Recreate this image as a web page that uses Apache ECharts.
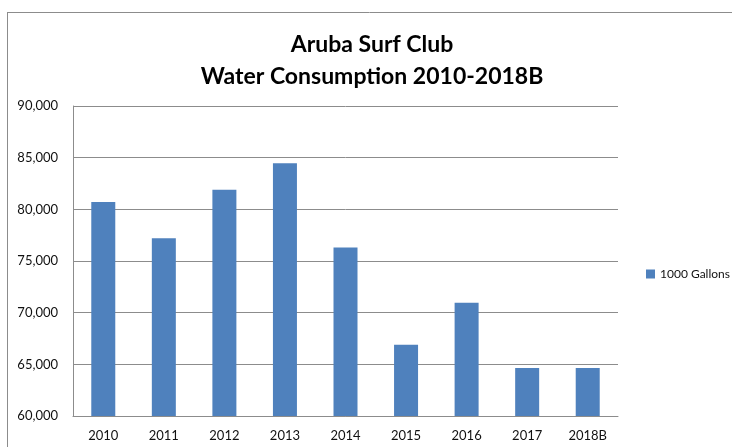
<!DOCTYPE html>
<html>
<head>
<meta charset="utf-8">
<script src="https://cdn.jsdelivr.net/npm/echarts@6/dist/echarts.min.js"></script>
<style>
    html, body { margin: 0; padding: 0; background: #fff; }
    #chart { width: 732px; height: 447px; }
</style>
</head>
<body>
<div id="chart"></div>
<script>
'use strict';
// 数据
var years = ['2010', '2011', '2012', '2013', '2014', '2015', '2016', '2017', '2018B'];
var gallons = [80700, 77200, 81900, 84450, 76300, 66900, 70950, 64650, 64650];
var seriesName = '1000 Gallons';
var titleLines = ['Aruba Surf Club', 'Water Consumption 2010-2018B'];

var chart = echarts.init(document.getElementById('chart'));
var font = 'Lato, "Open Sans", sans-serif';

var option = {
    animation: false,
    backgroundColor: '#fff',
    title: {
        text: titleLines.join('\n'),
        left: 367,
        textAlign: 'center',
        top: 24,
        textStyle: {
            fontFamily: font,
            fontWeight: 'bold',
            fontSize: 23,
            lineHeight: 32,
            color: '#000'
        }
    },
    legend: {
        orient: 'vertical',
        left: 641,
        top: 263,
        itemWidth: 9,
        itemHeight: 9,
        itemGap: 4,
        textStyle: { fontFamily: font, fontSize: 12, color: '#111' },
        data: [{ name: seriesName, icon: 'rect' }]
    },
    grid: {
        left: 73,
        right: 114,
        top: 106,
        bottom: 31,
        containLabel: false
    },
    xAxis: {
        type: 'category',
        data: years,
        axisLine: { lineStyle: { color: '#8c8c8c', width: 1 } },
        axisTick: { show: false },
        axisLabel: { fontFamily: font, fontSize: 13, color: '#111', margin: 13 }
    },
    yAxis: {
        type: 'value',
        min: 60000,
        max: 90000,
        interval: 5000,
        axisLine: { show: true, lineStyle: { color: '#8c8c8c', width: 1 } },
        axisTick: { show: false },
        splitLine: { lineStyle: { color: '#8c8c8c', width: 1 } },
        axisLabel: {
            fontFamily: font,
            fontSize: 13,
            color: '#111',
            margin: 15,
            formatter: function (v) {
                return v.toLocaleString('en-US');
            }
        }
    },
    series: [{
        name: seriesName,
        type: 'bar',
        data: gallons,
        barWidth: 24,
        itemStyle: { color: '#4F81BD' }
    }],
    graphic: [
        { type: 'line', shape: { x1: 7, y1: 12.5, x2: 732, y2: 12.5 }, style: { stroke: '#8c8c8c', lineWidth: 1 } },
        { type: 'line', shape: { x1: 7.5, y1: 12, x2: 7.5, y2: 447 }, style: { stroke: '#8c8c8c', lineWidth: 1 } }
    ]
};

chart.setOption(option);
</script>
</body>
</html>
